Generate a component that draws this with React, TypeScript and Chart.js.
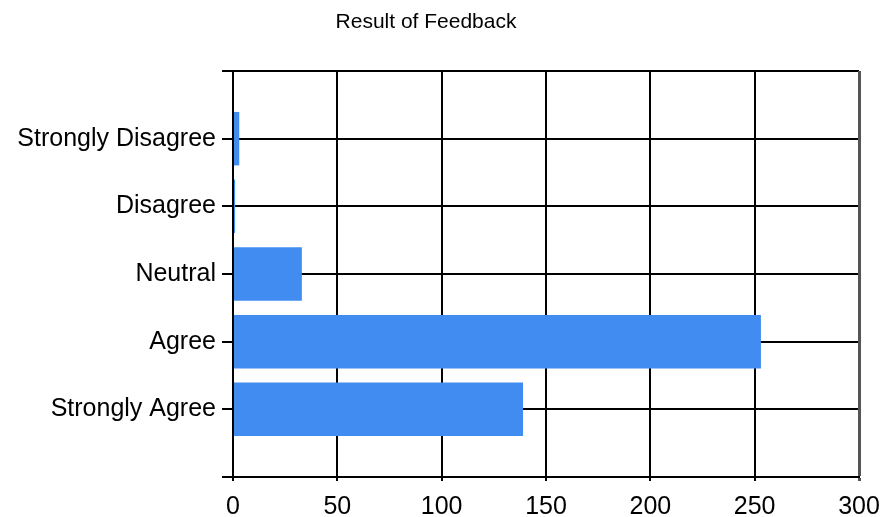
import React, { useEffect, useRef } from "react";
import { Chart, registerables } from "chart.js";

Chart.register(...registerables);

const titleText = "Result of Feedback";
const categories = ["", "Strongly Disagree", "Disagree", "Neutral", "Agree", "Strongly Agree", ""];
const responses = [null, 3, 1, 33, 253, 139, null];
const xMin = 0;
const xMax = 300;
const xStep = 50;

const FONT = "'Liberation Sans', Arial, sans-serif";

const titlePlugin = {
  id: "fixedTitle",
  afterDraw(chart: any) {
    const ctx = chart.ctx;
    ctx.save();
    ctx.fillStyle = "#000";
    ctx.font = `21px ${FONT}`;
    ctx.textAlign = "center";
    ctx.textBaseline = "alphabetic";
    ctx.fillText(titleText, 426, 28);
    ctx.restore();
  },
};

export default function App() {
  const ref = useRef<HTMLCanvasElement | null>(null);

  useEffect(() => {
    if (!ref.current) return;
    const chart = new Chart(ref.current, {
      type: "bar",
      data: {
        labels: categories,
        datasets: [
          {
            label: "Responses",
            data: responses as any,
            backgroundColor: "#418CF0",
            borderWidth: 0,
            barPercentage: 0.79,
            categoryPercentage: 1,
          },
        ],
      },
      options: {
        indexAxis: "y",
        animation: false,
        responsive: false,
        layout: { padding: { top: 71, right: 25, bottom: 0, left: 0 } },
        plugins: {
          legend: { display: false },
          title: { display: false },
          tooltip: { enabled: false },
        },
        scales: {
          y: {
            type: "category",
            offset: false,
            afterFit: (s: any) => {
              s.width = 233;
              s.paddingTop = 0;
              s.paddingBottom = 0;
            },
            grid: {
              offset: false,
              color: "#000",
              lineWidth: 2,
              tickLength: 11,
              drawTicks: true,
            },
            border: { display: true, color: "#000", width: 2 },
            ticks: {
              color: "#000",
              font: { family: FONT, size: 25 },
              padding: 6,
              autoSkip: false,
            },
          },
          x: {
            type: "linear",
            min: xMin,
            max: xMax,
            afterFit: (s: any) => {
              s.height = 40;
              s.paddingLeft = 0;
              s.paddingRight = 0;
            },
            grid: {
              color: (c: any) => (c.tick && c.tick.value === xMax ? "#555" : "#000"),
              lineWidth: (c: any) => (c.tick && c.tick.value === xMax ? 3 : 2),
              tickLength: 4,
            },
            border: { display: true, color: "#000", width: 2 },
            ticks: {
              stepSize: xStep,
              color: "#000",
              font: { family: FONT, size: 25 },
              padding: 11,
              maxRotation: 0,
            },
          },
        },
      },
      plugins: [titlePlugin],
    });
    return () => chart.destroy();
  }, []);

  return (
    <div style={{ position: "absolute", left: 0, top: 0, width: 884, height: 517, background: "#fff" }}>
      <canvas ref={ref} width={884} height={517} />
    </div>
  );
}
